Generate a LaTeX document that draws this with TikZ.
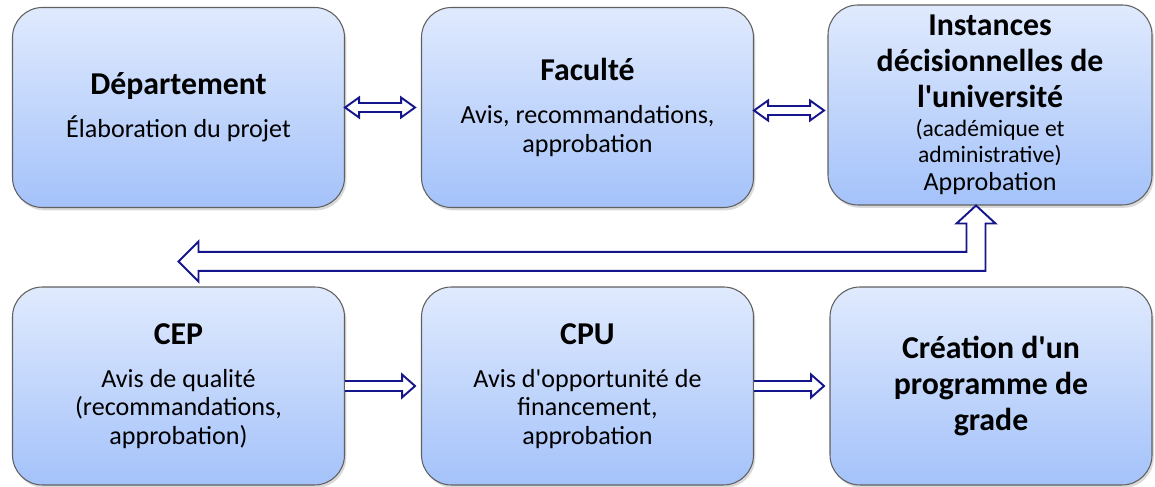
\documentclass[tikz,border=0pt]{standalone}
\usepackage{fontspec}
\setmainfont{Carlito}[Ligatures=TeXOff]
\usetikzlibrary{calc,shadows}

\definecolor{haut}{RGB}{224,234,253}
\definecolor{bas}{RGB}{164,194,250}
\definecolor{marine}{RGB}{22,22,140}

\newcommand{\grand}{\fontsize{18.1}{20.4}\selectfont\bfseries}
\newcommand{\petit}{\fontsize{13.4}{14.7}\selectfont}

\tikzset{
  boite/.style={draw=gray!75!black, line width=0.6pt, rounded corners=0.6cm,
    top color=haut, bottom color=bas, minimum width=6.64cm, minimum height=4cm,
    text width=6.2cm, align=flush center, inner sep=0pt,
    font={\fontsize{14.85}{16.2}\selectfont\lineskiplimit=-20pt},
    drop shadow={shadow xshift=1pt, shadow yshift=-1.6pt, opacity=0.3}},
  fleche/.style={draw=marine, line width=1.1pt, fill=white, line join=miter}
}

\begin{document}
\begin{tikzpicture}
\useasboundingbox (0,0) rectangle (23.1,9.74);

% premiere rangee
\node[boite] (dep) at (3.57,7.59) {{\grand Département\par}\vspace{8.2pt}Élaboration du projet};
\node[boite] (fac) at (11.75,7.59) {{\grand Faculté\par}\vspace{8.2pt}Avis, recommandations,\\ approbation};
\node[boite, minimum width=6.48cm] (inst) at (19.80,7.64) {{\grand Instances\\ décisionnelles de\\ l'université\par}\vspace{1.7pt}{\petit (académique et\\ administrative)\par}Approbation};

% deuxieme rangee
\node[boite, minimum height=3.96cm] (cep) at (3.57,2.02) {{\grand CEP\par}\vspace{8.2pt}Avis de qualité\\ (recommandations,\\ approbation)};
\node[boite, minimum height=3.96cm] (cpu) at (11.75,2.02) {{\grand CPU\par}\vspace{8.2pt}Avis d'opportunité de\\ financement,\\ approbation};
\node[boite, minimum width=6.44cm, minimum height=3.96cm] (crea) at (19.82,2.02) {{\grand Création d'un\\ programme de\\ grade\par}};

% fleches doubles
\draw[fleche] (dep.east) -- ++(0.28,0.2) -- ++(0,-0.11) -- ++(0.84,0) -- ++(0,0.11) -- ++(0.28,-0.2)
  -- ++(-0.28,-0.2) -- ++(0,0.11) -- ++(-0.84,0) -- ++(0,-0.11) -- cycle;
\draw[fleche] ($(fac.east)+(0,-0.06)$) -- ++(0.28,0.2) -- ++(0,-0.11) -- ++(0.84,0) -- ++(0,0.11) -- ++(0.28,-0.2)
  -- ++(-0.28,-0.2) -- ++(0,0.11) -- ++(-0.84,0) -- ++(0,-0.11) -- cycle;

% fleches simples
\draw[fleche] ($(cep.east)+(0,0.1)$) -- ++(1.14,0) -- ++(0,0.13) -- ++(0.26,-0.23) -- ++(-0.26,-0.23) -- ++(0,0.13) -- ++(-1.14,0);
\draw[fleche] ($(cpu.east)+(0,0.1)$) -- ++(1.14,0) -- ++(0,0.13) -- ++(0.26,-0.23) -- ++(-0.26,-0.23) -- ++(0,0.13) -- ++(-1.14,0);

% retour vers le CEP
\coordinate (hautfl) at ($(inst.south)+(-0.28,0)$);
\coordinate (gauchefl) at ($(cep.north)+(0,0.5)$);
\draw[fleche] (gauchefl) -- ++(0.4,0.4) -- ++(0,-0.21) -| ($(hautfl)+(-0.19,-0.36)$) -- ++(-0.2,0) -- (hautfl)
  -- ++(0.39,-0.36) -- ++(-0.2,0) |- ($(gauchefl)+(0.4,-0.19)$) -- ++(0,-0.21) -- cycle;
\end{tikzpicture}
\end{document}
